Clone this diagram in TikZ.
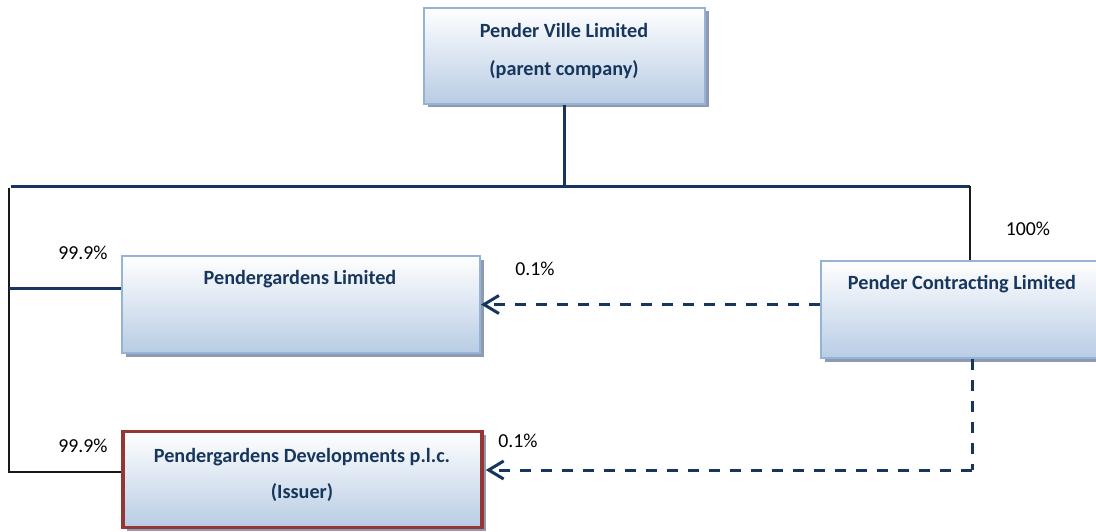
\documentclass[tikz,border=0pt]{standalone}
\usepackage{fontspec}
\setmainfont{Carlito}
\usetikzlibrary{arrows.meta,shadows,calc}
\definecolor{navy}{HTML}{17365D}
\definecolor{boxblue}{HTML}{B8CCE4}
\definecolor{boxborder}{HTML}{95B3D7}
\definecolor{shadowc}{HTML}{8E9BAE}
\definecolor{issred}{HTML}{943634}
\tikzset{
  box/.style={rectangle, draw=boxborder, line width=2pt, top color=white, bottom color=boxblue,
    general shadow={shadow xshift=3.5pt, shadow yshift=-3.5pt, fill=shadowc}, inner sep=0pt},
  issbox/.style={box, draw=issred, line width=3.5pt},
  boxtext/.style={font=\fontsize{20.2}{22}\selectfont\bfseries, text=navy, inner sep=0pt},
  pct/.style={font=\fontsize{19.8}{22}\selectfont, text=black, inner sep=0pt},
  solidline/.style={draw=navy, line width=3pt},
  thinline/.style={draw=black!90, line width=2pt},
  dasharrow/.style={draw=navy, line width=3pt, dash pattern=on 11pt off 10pt,
    -{Straight Barb[length=15pt,width=18pt,line width=3pt]}},
  dashline/.style={draw=navy, line width=3pt, dash pattern=on 11pt off 10pt},
}
\begin{document}
\begin{tikzpicture}[x=1pt,y=-1pt]
\useasboundingbox (0,0) rectangle (1096,531);
% boxes
\node[box, minimum width=281pt, minimum height=96pt] (pv) at (564.5,55.5) {};
\node[box, minimum width=358pt, minimum height=97pt] (pl) at (301,304.5) {};
\node[box, minimum width=282pt, minimum height=97pt] (pc) at (962,309.5) {};
\node[issbox, minimum width=359pt, minimum height=96pt] (di) at (302.5,479.5) {};
% texts
\node[boxtext] (t1) at (564,30) {Pender Ville Limited};
\node[boxtext] (t2) at (564,70) {(parent company)};
\node[boxtext] (t3) at (300,279) {Pendergardens Limited};
\node[boxtext] (t4) at (962,284) {Pender Contracting Limited};
\node[boxtext] (t5) at (302,457) {Pendergardens Developments p.l.c.};
\node[boxtext] (t6) at (302,493) {(Issuer)};
% percentages
\node[pct] (p1) at (83,253) {99.9\%};
\node[pct] (p2) at (83,446) {99.9\%};
\node[pct] (p3) at (1028,229) {100\%};
\node[pct] (p4) at (535,269) {0.1\%};
\node[pct] (p5) at (518,441) {0.1\%};
% connectors
\coordinate (hl) at (11,186);
\coordinate (hr) at (970,186);
\coordinate (vl) at (9,188);
\draw[solidline] (hl) -- (hr);
\draw[solidline] (pv.south) -- (pv.south |- hl);
\draw[thinline] (hr) -- (hr |- pc.north);
\draw[thinline] (vl) |- ([yshift=7.5pt]di.west);
\draw[solidline] ([yshift=16.5pt]pl.west -| vl) -- ([yshift=16.5pt]pl.west);
\draw[dasharrow] (pc.west |- pl.east) -- (pl.east);
\coordinate (dv) at (972,470);
\draw[dashline] (dv |- pc.south) -- (dv);
\draw[dasharrow] (dv) -- ([xshift=2pt]di.east |- dv);
\end{tikzpicture}
\end{document}
